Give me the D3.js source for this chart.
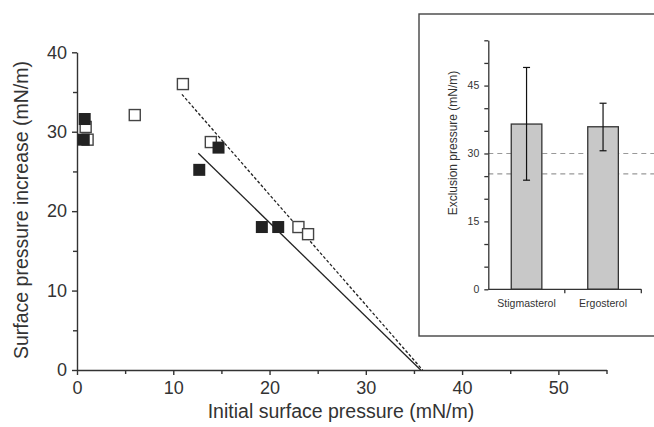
<!DOCTYPE html>
<html>
<head>
<meta charset="utf-8">
<script src="https://cdn.jsdelivr.net/npm/d3@7"></script>
<style>
  body { margin: 0; background: #fff; }
  svg { display: block; font-family: "Liberation Sans", Arial, sans-serif; }
</style>
</head>
<body>
<div id="chart"></div>
<script>
// main plot data (initial pressure, pressure increase)
var filledX = [0.8, 0.7, 12.7, 14.7, 19.2, 20.9];
var filledY = [31.6, 29.0, 25.2, 28.0, 18.0, 18.0];
var openX = [0.9, 1.1, 6.0, 11.0, 13.9, 23.0, 24.0];
var openY = [30.6, 29.0, 32.1, 36.0, 28.7, 18.0, 17.1];
// regression line end points
var solidLineX = [12.6, 35.7];
var solidLineY = [27.3, 0];
var dashedLineX = [10.9, 35.9];
var dashedLineY = [34.7, 0];
var xTicks = [0, 10, 20, 30, 40, 50];
var yTicks = [0, 10, 20, 30, 40];

// inset data
var sterols = ["Stigmasterol", "Ergosterol"];
var exclusion = [36.5, 35.9];
var errLow = [24.1, 30.6];
var errHigh = [49.0, 41.1];
var refLines = [30, 25.5];
var insetTicks = [0, 15, 30, 45];

var width = 654, height = 427;
var font = "Liberation Sans, Arial, sans-serif";
var svg = d3.select("#chart").append("svg").attr("width", width).attr("height", height);

var ink = "#333";

// ---- main plot ----
var x = d3.scaleLinear().domain([0, 55]).range([77, 606.5]);
var y = d3.scaleLinear().domain([0, 40]).range([370, 52.3]);

svg.append("g").attr("transform", "translate(0," + y(0) + ")")
  .call(d3.axisBottom(x).tickValues(xTicks).tickSize(5).tickPadding(6).tickSizeOuter(0));
svg.append("g").attr("transform", "translate(0," + y(0) + ")")
  .call(d3.axisBottom(x).tickValues([5, 15, 25, 35, 45, 55]).tickSize(4).tickFormat("").tickSizeOuter(0))
  .select(".domain").remove();
svg.append("g").attr("transform", "translate(" + x(0) + ",0)")
  .call(d3.axisLeft(y).tickValues(yTicks).tickSize(5).tickPadding(5).tickSizeOuter(0));
svg.append("g").attr("transform", "translate(" + x(0) + ",0)")
  .call(d3.axisLeft(y).tickValues([5, 15, 25, 35]).tickSize(4).tickFormat("").tickSizeOuter(0))
  .select(".domain").remove();

svg.selectAll("g").attr("font-family", font);
svg.selectAll(".domain, .tick line").attr("stroke", ink).attr("stroke-width", 1.4);
svg.selectAll(".tick text").attr("fill", ink).style("font-size", "18px");

svg.append("text")
  .attr("transform", "translate(" + 28 + "," + 210 + ") rotate(-90)")
  .attr("text-anchor", "middle").attr("fill", ink).style("font-size", "19.5px")
  .text("Surface pressure increase (mN/m)");
svg.append("text")
  .attr("x", 341).attr("y", 418)
  .attr("text-anchor", "middle").attr("fill", ink).style("font-size", "19.5px")
  .text("Initial surface pressure (mN/m)");

var line = d3.line().x(function (d) { return x(d[0]); }).y(function (d) { return y(d[1]); });
svg.append("path").datum(d3.zip(solidLineX, solidLineY))
  .attr("d", line).attr("fill", "none").attr("stroke", "#222").attr("stroke-width", 1.3);
svg.append("path").datum(d3.zip(dashedLineX, dashedLineY))
  .attr("d", line).attr("fill", "none").attr("stroke", "#222").attr("stroke-width", 1.3)
  .attr("stroke-dasharray", "3,2");

var s = 12;
svg.append("g").selectAll("rect").data(d3.zip(openX, openY)).enter().append("rect")
  .attr("x", function (d) { return x(d[0]) - s / 2 + 0.5; })
  .attr("y", function (d) { return y(d[1]) - s / 2 + 0.5; })
  .attr("width", s - 1).attr("height", s - 1)
  .attr("fill", "#fff").attr("stroke", "#444").attr("stroke-width", 1.4);
svg.append("g").selectAll("rect").data(d3.zip(filledX, filledY)).enter().append("rect")
  .attr("x", function (d) { return x(d[0]) - s / 2; })
  .attr("y", function (d) { return y(d[1]) - s / 2; })
  .attr("width", s).attr("height", s)
  .attr("fill", "#222");

// ---- inset ----
svg.append("rect").attr("x", 419).attr("y", 14).attr("width", 250).attr("height", 322)
  .attr("fill", "#fff").attr("stroke", "#444").attr("stroke-width", 1.4);

var iy = d3.scaleLinear().domain([0, 55]).range([289.3, 40.3]);
var ix = d3.scaleBand().domain(sterols).range([488.3, 641.3]).paddingInner(0.6).paddingOuter(0.3);

var ins = svg.append("g").attr("font-family", font);
ins.selectAll(".ref").data(refLines).enter().append("line")
  .attr("x1", 488.3).attr("x2", 654)
  .attr("y1", function (d) { return iy(d); }).attr("y2", function (d) { return iy(d); })
  .attr("stroke", "#999").attr("stroke-width", 1.1).attr("stroke-dasharray", "5,4");

ins.selectAll(".bar").data(sterols).enter().append("rect")
  .attr("x", function (d) { return ix(d); })
  .attr("y", function (d, i) { return iy(exclusion[i]); })
  .attr("width", ix.bandwidth())
  .attr("height", function (d, i) { return iy(0) - iy(exclusion[i]); })
  .attr("fill", "#c8c8c8").attr("stroke", "#333").attr("stroke-width", 1.3);

sterols.forEach(function (c, i) {
  var cx = ix(c) + ix.bandwidth() / 2;
  ins.append("line").attr("x1", cx).attr("x2", cx)
    .attr("y1", iy(errLow[i])).attr("y2", iy(errHigh[i]))
    .attr("stroke", "#111").attr("stroke-width", 1.2);
  [errLow[i], errHigh[i]].forEach(function (v) {
    ins.append("line").attr("x1", cx - 3.5).attr("x2", cx + 3.5)
      .attr("y1", iy(v)).attr("y2", iy(v))
      .attr("stroke", "#111").attr("stroke-width", 1.2);
  });
});

var iyAxis = ins.append("g").attr("transform", "translate(488.3,0)")
  .call(d3.axisLeft(iy).tickValues(d3.range(0, 56, 5)).tickSize(4).tickPadding(5).tickSizeOuter(0)
    .tickFormat(function (d) { return insetTicks.indexOf(d) >= 0 ? d : ""; }))
  .attr("font-family", font);
// band boundaries for category ticks
var bounds = [ix.range()[0], ix.range()[0] + ix.step(), ix.range()[1]];
var ixAxis = ins.append("g").attr("transform", "translate(0," + iy(0) + ")");
ixAxis.append("line").attr("x1", bounds[0]).attr("x2", bounds[2]).attr("stroke", "#333").attr("stroke-width", 1.3);
ixAxis.selectAll(".bt").data(bounds.slice(1)).enter().append("line")
  .attr("x1", function (d) { return d; }).attr("x2", function (d) { return d; })
  .attr("y1", 0).attr("y2", 4).attr("stroke", "#333").attr("stroke-width", 1.3);
ixAxis.selectAll("text").data(sterols).enter().append("text")
  .attr("x", function (d) { return ix(d) + ix.bandwidth() / 2; }).attr("y", 18)
  .attr("text-anchor", "middle").attr("fill", "#333").style("font-size", "10.5px")
  .text(function (d) { return d; });

iyAxis.selectAll(".domain, .tick line").attr("stroke", "#333").attr("stroke-width", 1.3);
iyAxis.selectAll(".tick text").attr("fill", "#333").style("font-size", "10.5px");

ins.append("text")
  .attr("transform", "translate(457,143) rotate(-90)")
  .attr("text-anchor", "middle").attr("fill", "#333").style("font-size", "12px")
  .text("Exclusion pressure (mN/m)");
</script>
</body>
</html>
